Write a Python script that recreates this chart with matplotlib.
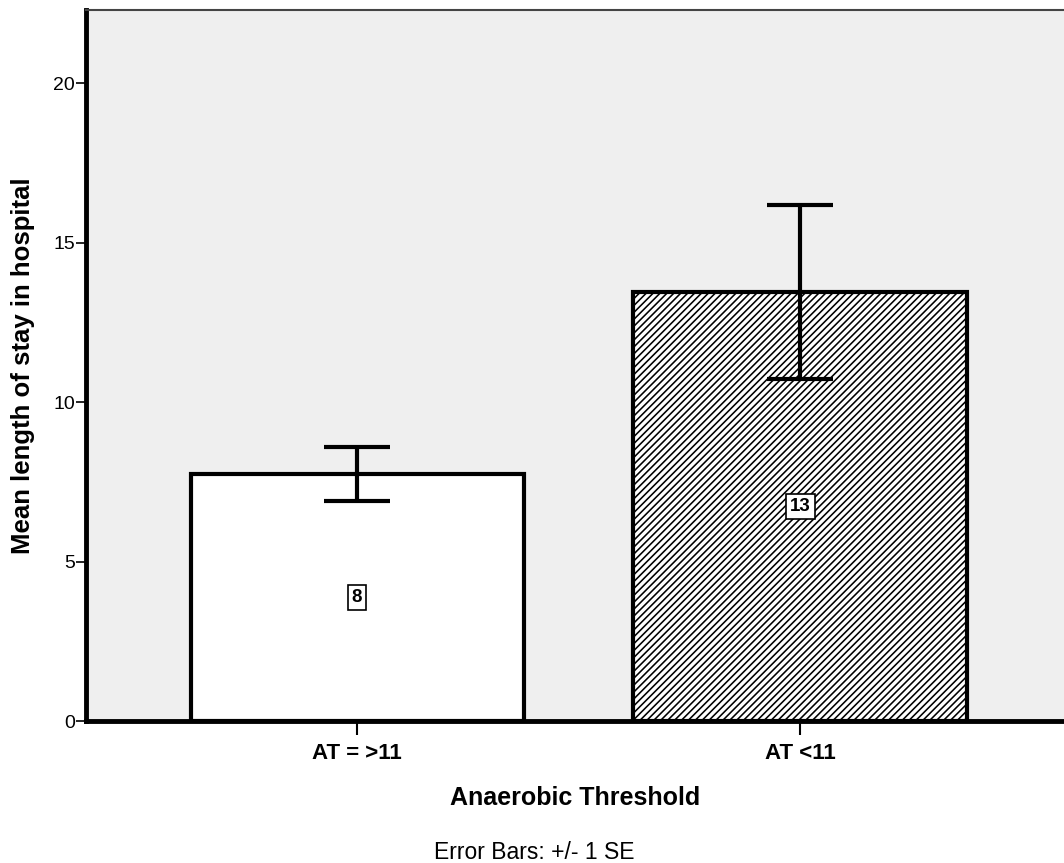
import matplotlib.pyplot as plt
import numpy as np
from matplotlib.collections import LineCollection
from matplotlib.transforms import IdentityTransform

plt.rcParams['font.family'] = ['Liberation Sans', 'DejaVu Sans']

categories = ['AT = >11', 'AT <11']
means = [7.74, 13.45]
se_low = [0.84, 2.73]
se_high = [0.85, 2.73]
counts = ['8', '13']
hatched = [False, True]

fig = plt.figure(figsize=(10.64, 8.63), dpi=100)
ax = fig.add_axes([86 / 1064, 142 / 863, 978 / 1064, 711 / 863])
ax.set_facecolor('#efefef')
ax.set_xlim(-0.612, 1.596)
ax.set_ylim(0, 22.3)

x = np.arange(len(categories))
for i in range(len(categories)):
    bar = ax.bar(x[i], means[i], width=0.752, color='white', edgecolor='none', zorder=2)[0]
    if hatched[i]:
        # dense diagonal hatch, drawn in pixels and clipped to the bar
        bb = bar.get_window_extent()
        segs = [[(c, bb.y0), (c + bb.height, bb.y1)]
                for c in np.arange(bb.x0 - bb.height, bb.x1, 6.9)]
        lc = LineCollection(segs, colors='black', linewidths=1.15,
                            transform=IdentityTransform(), zorder=2.2)
        ax.add_collection(lc, autolim=False)
        lc.set_clip_path(bar)
    ax.bar(x[i], means[i], width=0.752, fill=False, edgecolor='black',
           linewidth=3, zorder=2.4)
    ax.errorbar(x[i], means[i], yerr=[[se_low[i]], [se_high[i]]], fmt='none',
                ecolor='black', elinewidth=3, capsize=24, capthick=3, zorder=3)
    ax.text(x[i], means[i] / 2, counts[i], ha='center', va='center',
            fontsize=13.5, fontweight='bold', zorder=4,
            bbox=dict(boxstyle='square,pad=0.22', fc='white', ec='black', lw=1.2))

ax.set_xlim(-0.612, 1.596)
ax.set_ylim(0, 22.3)
ax.set_yticks([0, 5, 10, 15, 20])
ax.set_xticks(x)
ax.set_xticklabels(categories, fontsize=16, fontweight='bold')
ax.tick_params(axis='y', length=7, width=1.2, labelsize=14, pad=1)
ax.tick_params(axis='x', length=10, width=1.5, pad=6)

ax.spines['left'].set_linewidth(3.5)
ax.spines['bottom'].set_linewidth(3.5)
ax.spines['top'].set_linewidth(1.5)
ax.spines['top'].set_color('#444444')
ax.spines['right'].set_visible(False)

ax.set_ylabel('Mean length of stay in hospital', fontsize=18.5, fontweight='bold', labelpad=13)
ax.set_xlabel('Anaerobic Threshold', fontsize=18, fontweight='bold', labelpad=16)
fig.text(534 / 1064, 11 / 863, 'Error Bars: +/- 1 SE', ha='center', va='center', fontsize=16.5)

fig.savefig('out.png', dpi=100)
